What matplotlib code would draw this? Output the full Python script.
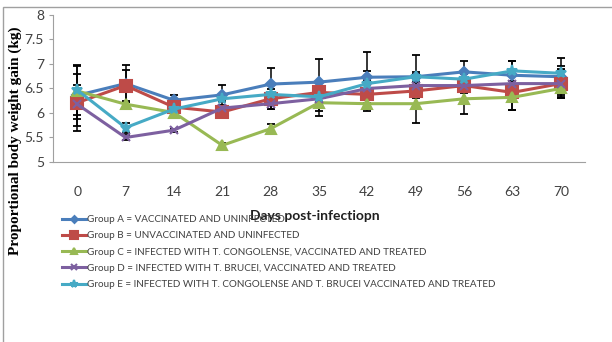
import numpy as np
import matplotlib.pyplot as plt
from matplotlib.patches import Rectangle

days = [0, 7, 14, 21, 28, 35, 42, 49, 56, 63, 70]

group_a = [6.36, 6.60, 6.26, 6.37, 6.59, 6.63, 6.73, 6.74, 6.84, 6.77, 6.74]
group_b = [6.21, 6.56, 6.12, 6.02, 6.29, 6.42, 6.38, 6.45, 6.56, 6.42, 6.60]
group_c = [6.45, 6.18, 6.01, 5.34, 5.68, 6.21, 6.19, 6.19, 6.29, 6.32, 6.50]
group_d = [6.18, 5.50, 5.65, 6.10, 6.19, 6.29, 6.50, 6.56, 6.56, 6.60, 6.60]
group_e = [6.47, 5.70, 6.08, 6.29, 6.38, 6.33, 6.60, 6.74, 6.69, 6.86, 6.81]

err_a = [0.62, 0.38, 0.10, 0.20, 0.32, 0.47, 0.52, 0.44, 0.22, 0.30, 0.38]
err_b = [0.58, 0.32, 0.08, 0.08, 0.20, 0.20, 0.30, 0.35, 0.30, 0.35, 0.30]
err_c = [0.50, 0.05, 0.05, 0.05, 0.09, 0.28, 0.15, 0.39, 0.32, 0.25, 0.20]
err_d = [0.30, 0.05, 0.03, 0.05, 0.10, 0.25, 0.35, 0.10, 0.15, 0.25, 0.28]
err_e = [0.10, 0.10, 0.05, 0.05, 0.05, 0.10, 0.10, 0.10, 0.10, 0.20, 0.15]

labels = [
    "Group A = VACCINATED AND UNINFECTED",
    "Group B = UNVACCINATED AND UNINFECTED",
    "Group C = INFECTED WITH T. CONGOLENSE, VACCINATED AND TREATED",
    "Group D = INFECTED WITH T. BRUCEI, VACCINATED AND TREATED",
    "Group E = INFECTED WITH T. CONGOLENSE AND T. BRUCEI VACCINATED AND TREATED",
]

series = [group_a, group_b, group_c, group_d, group_e]
errors = [err_a, err_b, err_c, err_d, err_e]
colors = ["#4A7EBB", "#BE4B48", "#98B954", "#7D60A0", "#46AAC5"]
markers = ["D", "s", "^", "x", "*"]
msizes = [5, 8, 7, 6, 8]

plt.rcParams['font.family'] = ['Lato', 'DejaVu Sans']

fig = plt.figure(figsize=(6.12, 3.42), dpi=100)
ax = fig.add_axes([53 / 612, 1 - 162 / 342, (585 - 53) / 612, (162 - 15) / 342])

# grey frame round the chart area
fig.patches.append(Rectangle((3 / 612, -0.1), 1.2, 1 - 7 / 342 + 0.1, transform=fig.transFigure,
                             fill=False, edgecolor="#A0A0A0", linewidth=1))

handles = []
for vals, err, c, m, ms, lab in zip(series, errors, colors, markers, msizes, labels):
    ax.errorbar(days, vals, yerr=err, fmt="none", ecolor="black", elinewidth=1.1,
                capsize=3, capthick=1.3, zorder=2)
    h, = ax.plot(days, vals, color=c, marker=m, markersize=ms, linewidth=2.2,
                 markeredgecolor=c, markeredgewidth=1.5, label=lab, zorder=3)
    handles.append(h)

ax.set_xlim(-3.5, 73.5)
ax.set_ylim(5, 8)
ax.set_xticks(days)
ax.set_yticks(np.arange(5, 8.01, 0.5))
ax.set_yticklabels(["5", "5.5", "6", "6.5", "7", "7.5", "8"])
ax.tick_params(axis="x", length=0, pad=17, labelsize=10, colors="#404040")
ax.tick_params(axis="y", length=3, color="#A0A0A0", labelsize=10, labelcolor="#404040")
for s in ["top", "right"]:
    ax.spines[s].set_visible(False)
for s in ["left", "bottom"]:
    ax.spines[s].set_color("#A0A0A0")

fig.text(315 / 612, 1 - 216 / 342, "Days post-infectiopn", ha="center", va="center",
         fontsize=10, fontweight="bold", color="#202020")
fig.text(15 / 612, 1 - 141 / 342, "Proportional body weight gain (kg)", rotation=90,
         ha="center", va="center", fontsize=11, fontweight="bold",
         family="Liberation Serif")

fig.legend(handles=handles, loc="upper left", bbox_to_anchor=(62 / 612, 1 - 215 / 342),
           frameon=False, fontsize=7.1, handlelength=2.4, handletextpad=0.15,
           labelspacing=0.74, borderpad=0, borderaxespad=0, labelcolor="#404040",
           markerscale=0.7)

fig.savefig("out.png", dpi=100)
